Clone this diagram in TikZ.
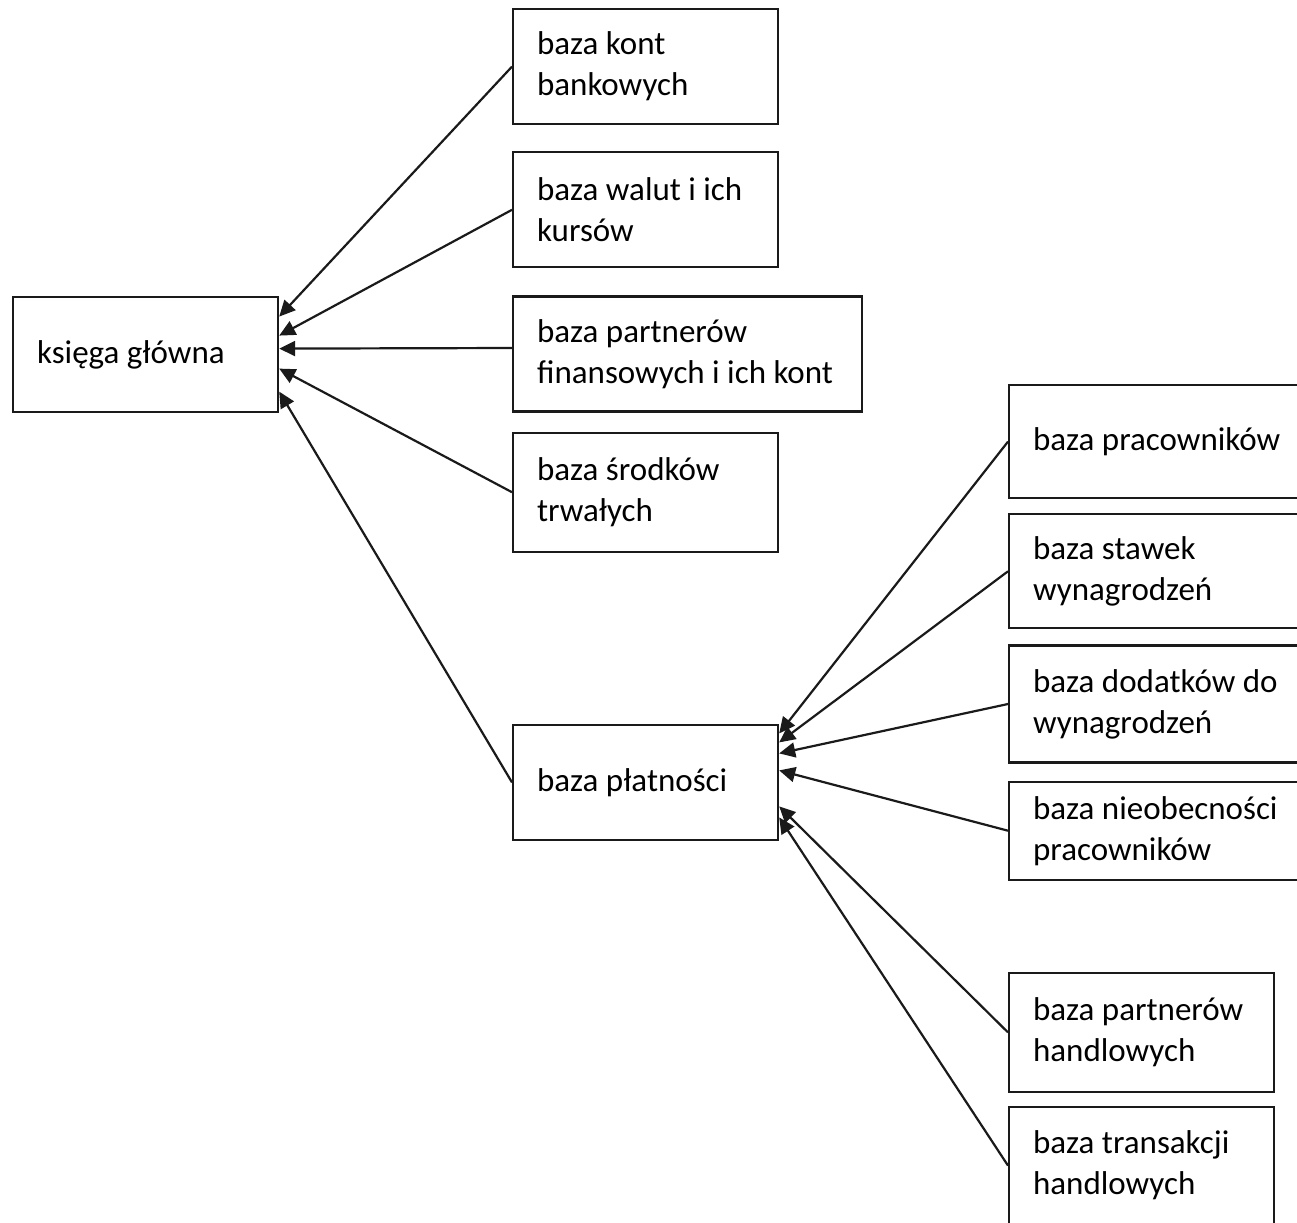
\documentclass[tikz,border=0pt]{standalone}
\usepackage{fontspec}
\setmainfont{Carlito}
\usepackage{tikz}
\usepackage{xcolor}
\usetikzlibrary{arrows.meta,positioning}
\definecolor{inkdark}{HTML}{1A1A1A}
\tikzset{
  bazabox/.style={
    draw=inkdark,
    line width=1.1pt,
    align=flush left,
    inner xsep=12pt,
    inner ysep=0pt,
    text width=108.5pt,
    minimum height=57.5pt,
    font=\fontsize{16.5}{20.5}\selectfont
  },
  widebox/.style={bazabox, text width=136pt},
  feedarrow/.style={-{Triangle[length=8pt,width=7.5pt]}, line width=1.1pt, draw=inkdark}
}

\begin{document}
\begin{tikzpicture}[x=0.5pt,y=-0.5pt]
\useasboundingbox (0,0) rectangle (1297,1222);
\clip (0,0) rectangle (1297,1222);

\node[bazabox, anchor=north west] (ksiega) at (12,296) {księga główna};

\node[bazabox, anchor=north west] (kont) at (512,8) {baza kont\\bankowych};
\node[bazabox, below right=13pt and 0pt of kont.south west] (waluty) {baza walut i ich\\kursów};
\node[bazabox, below right=13.5pt and 0pt of waluty.south west, text width=150.5pt] (partnfin) {baza partnerów\\finansowych i ich kont};
\node[bazabox, below right=9.5pt and 0pt of partnfin.south west, minimum height=59.5pt] (srodki) {baza środków\\trwałych};
\node[bazabox, below right=85.5pt and 0pt of srodki.south west] (platnosci) {baza płatności};

\node[widebox, anchor=north west, minimum height=56.5pt] (pracownicy) at (1008,384) {baza pracowników};
\node[widebox, below right=7pt and 0pt of pracownicy.south west, minimum height=57pt] (stawki) {baza stawek\\wynagrodzeń};
\node[widebox, below right=7.5pt and 0pt of stawki.south west, minimum height=58.5pt] (dodatki) {baza dodatków do\\wynagrodzeń};
\node[widebox, below right=8.5pt and 0pt of dodatki.south west, minimum height=49pt] (nieobecnosci) {baza nieobecności\\pracowników};
\node[bazabox, below right=45.5pt and 0pt of nieobecnosci.south west, minimum height=59.5pt] (partnhandl) {baza partnerów\\handlowych};
\node[bazabox, below right=6.5pt and 0pt of partnhandl.south west, minimum height=58.5pt] (transakcje) {baza transakcji\\handlowych};

% into the general ledger
\draw[feedarrow] (kont.west) -- ([yshift=19pt]ksiega.east);
\draw[feedarrow] (waluty.west) -- ([yshift=9.5pt]ksiega.east);
\draw[feedarrow] ([yshift=3pt]partnfin.west) -- ([yshift=3pt]ksiega.east);
\draw[feedarrow] (srodki.west) -- ([yshift=-7pt]ksiega.east);
\draw[feedarrow] (platnosci.west) -- ([yshift=-18.5pt]ksiega.east);

% into payments
\draw[feedarrow] (pracownicy.west) -- ([yshift=24.5pt]platnosci.east);
\draw[feedarrow] (stawki.west) -- ([yshift=20pt]platnosci.east);
\draw[feedarrow] (dodatki.west) -- ([yshift=14.5pt]platnosci.east);
\draw[feedarrow] (nieobecnosci.west) -- ([yshift=6pt]platnosci.east);
\draw[feedarrow] (partnhandl.west) -- ([yshift=-12pt]platnosci.east);
\draw[feedarrow] (transakcje.west) -- ([yshift=-17.5pt]platnosci.east);
\end{tikzpicture}
\end{document}
